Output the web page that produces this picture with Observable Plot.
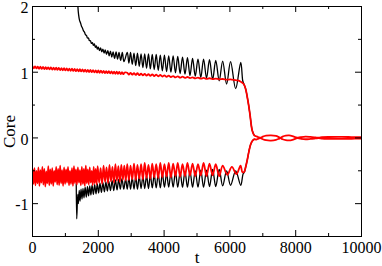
<!DOCTYPE html>
<html><head><meta charset="utf-8">
<script src="https://cdn.jsdelivr.net/npm/d3@7"></script>
<script src="https://cdn.jsdelivr.net/npm/@observablehq/plot@0.6"></script>
<style>body{margin:0;background:#fff}</style>
</head><body><div id="chart"></div>
<script>
const xMajorTicks = [0, 2000, 4000, 6000, 8000, 10000];
const xMinorTicks = [1000, 3000, 5000, 7000, 9000];
const yMajorTicks = [-1, 0, 1, 2];
const yMinorTicks = [-1.5, -0.5, 0.5, 1.5];
const xLabel = "t";
const yLabel = "Core";

const blackUpper = [
[1360,2.3],[1380,2.0],[1400,1.88],[1430,1.79],[1460,1.75],[1490,1.70],[1520,1.67],[1550,1.63],[1580,1.61],[1610,1.57],
[1640,1.56],[1670,1.52],[1700,1.52],[1730,1.48],[1760,1.48],[1790,1.44],[1820,1.45],[1850,1.41],[1880,1.43],[1910,1.38],
[1940,1.40],[1970,1.35],[2000,1.38],[2035,1.33],[2070,1.37],[2105,1.31],[2140,1.35],[2175,1.29],[2210,1.34],[2250,1.27],
[2290,1.33],[2330,1.25],[2370,1.32],[2410,1.23],[2450,1.31],[2495,1.21],[2540,1.31],[2585,1.20],[2630,1.30],[2680,1.18],
[2730,1.30],[2780,1.16],
[2880,1.30],[2930,1.14],[2980,1.30],[3032,1.12],[3085,1.29],[3137,1.10],[3190,1.29],[3245,1.09],[3300,1.28],[3355,1.07],
[3410,1.28],[3467,1.06],[3525,1.28],[3582,1.05],[3640,1.27],[3700,1.04],[3760,1.27],[3822,1.03],[3885,1.26],[3947,1.02],
[4010,1.26],[4075,1.01],[4140,1.25],[4207,1.00],[4275,1.25],[4345,0.99],[4415,1.24],[4487,0.98],[4560,1.23],[4635,0.97],
[4710,1.22],[4787,0.95],[4865,1.21],[4947,0.94],[5030,1.20],[5115,0.92],[5200,1.20],[5290,0.91],[5380,1.19],[5475,0.89],
[5570,1.18],[5675,0.87],[5780,1.17],[5900,0.82],[6020,1.16],[6175,0.75],[6330,1.15],[6390,0.87],[6424,0.82],[6476,0.75],
[6546,0.57],[6607,0.37],[6680,0.11],[6740,0.04]
];

const blackLower = [
[1330,-0.70],[1345,-1.23],[1375,-0.86],[1395,-1.00],[1420,-0.80],[1445,-0.96],[1475,-0.78],[1505,-0.93],[1535,-0.77],[1565,-0.91],
[1600,-0.75],[1635,-0.90],[1670,-0.74],[1705,-0.88],[1740,-0.73],[1775,-0.87],[1810,-0.72],[1850,-0.86],[1890,-0.71],[1930,-0.85],
[1970,-0.70],[2010,-0.84],[2050,-0.69],[2095,-0.83],[2140,-0.68],[2185,-0.82],[2230,-0.67],[2275,-0.81],[2320,-0.66],[2370,-0.80],
[2420,-0.65],[2470,-0.80],[2520,-0.64],[2570,-0.79],[2620,-0.63],[2670,-0.78],[2720,-0.62],[2775,-0.78],[2830,-0.62],
[2880,-0.78],[2930,-0.60],[2980,-0.78],[3032,-0.60],[3085,-0.78],[3137,-0.59],[3190,-0.78],[3245,-0.58],[3300,-0.77],[3355,-0.58],
[3410,-0.77],[3467,-0.57],[3525,-0.77],[3582,-0.56],[3640,-0.76],[3700,-0.56],[3760,-0.76],[3822,-0.55],[3885,-0.76],[3947,-0.54],
[4010,-0.75],[4075,-0.54],[4140,-0.75],[4207,-0.53],[4275,-0.75],[4345,-0.52],[4415,-0.75],[4487,-0.52],[4560,-0.75],[4635,-0.51],
[4710,-0.75],[4787,-0.50],[4865,-0.75],[4947,-0.50],[5030,-0.75],[5115,-0.49],[5200,-0.75],[5290,-0.49],[5380,-0.74],[5475,-0.48],
[5570,-0.74],[5675,-0.48],[5780,-0.73],[5900,-0.50],[6020,-0.72],[6175,-0.50],[6330,-0.72],[6400,-0.55],[6440,-0.52],[6476,-0.45],
[6530,-0.33],[6580,-0.20],[6630,-0.10],[6690,-0.04],[6740,-0.02]
];

const redUpper = [
[0,1.09],[40,1.06],[80,1.087],[120,1.057],[160,1.085],[200,1.053],[240,1.083],[280,1.050],[320,1.080],[360,1.048],
[400,1.078],[440,1.046],[480,1.075],[520,1.044],[560,1.073],[600,1.040],[640,1.070],[680,1.038],[720,1.068],[760,1.036],
[800,1.065],[840,1.032],[880,1.062],[920,1.030],[960,1.060],[1000,1.027],[1040,1.058],[1080,1.024],[1120,1.055],[1160,1.022],
[1200,1.053],[1240,1.020],[1280,1.050],[1320,1.016],[1360,1.048],[1400,1.014],[1440,1.045],[1480,1.012],[1520,1.042],[1560,1.009],
[1600,1.040],[1640,1.006],[1680,1.037],[1720,1.003],[1760,1.034],[1800,1.000],[1840,1.031],[1880,0.998],[1920,1.029],[1960,0.995],
[2000,1.026],[2040,0.992],[2080,1.024],[2120,0.990],[2160,1.021],[2200,0.987],[2240,1.018],[2280,0.985],[2320,1.016],[2360,0.982],
[2400,1.013],[2440,0.980],[2480,1.010],[2520,0.977],[2560,1.007],[2600,0.975],[2640,1.004],[2680,0.972],[2720,1.002],[2760,0.970],
[2800,0.995],[2880,0.992],[2930,0.965],[2980,0.990],[3032,0.962],[3085,0.987],[3137,0.958],[3190,0.984],[3245,0.955],[3300,0.980],
[3355,0.952],[3410,0.976],[3467,0.948],[3525,0.972],[3582,0.945],[3640,0.968],[3700,0.942],[3760,0.963],[3822,0.938],[3885,0.958],
[3947,0.934],[4010,0.953],[4075,0.930],[4140,0.948],[4207,0.926],[4275,0.942],[4345,0.921],[4415,0.937],[4487,0.917],[4560,0.932],
[4635,0.913],[4710,0.927],[4787,0.910],[4865,0.922],[4947,0.906],[5030,0.918],[5115,0.902],[5200,0.913],[5290,0.899],[5380,0.908],
[5475,0.895],[5570,0.903],[5675,0.892],[5780,0.897],[5900,0.886],[6020,0.890],[6175,0.878],[6250,0.875],[6330,0.855],[6420,0.82],
[6476,0.75],[6546,0.57],[6607,0.37],[6680,0.11],[6740,0.04],[6800,0.025],[6870,0.01],[6930,0.003],[7000,0.02],[7100,0.035],
[7250,0.04],[7400,0.03],[7500,0.01],[7540,0.003],[7600,0.02],[7700,0.035],[7800,0.038],[7900,0.028],[8000,0.01],[8050,0.003],
[8150,0.012],[8300,0.02],[8450,0.015],[8600,0.008],[8700,0.003],[8800,0.01],[9000,0.014],[9300,0.015],[9600,0.014],[9800,0.012],
[10000,0.012]
];

const redLower = [
[0,-0.48],[30,-0.70],[60,-0.46],[90,-0.72],[120,-0.50],[150,-0.69],[180,-0.45],[210,-0.73],[240,-0.49],[270,-0.68],
[300,-0.44],[330,-0.71],[360,-0.47],[390,-0.74],[420,-0.51],[450,-0.69],[480,-0.43],[510,-0.72],[540,-0.48],[570,-0.70],
[600,-0.46],[630,-0.73],[660,-0.50],[690,-0.67],[720,-0.44],[750,-0.71],[780,-0.47],[810,-0.72],[840,-0.42],[870,-0.69],
[900,-0.49],[930,-0.73],[960,-0.45],[990,-0.70],[1020,-0.48],[1050,-0.68],[1080,-0.44],[1110,-0.72],[1140,-0.50],[1170,-0.70],
[1200,-0.46],[1230,-0.73],[1260,-0.43],[1290,-0.69],[1320,-0.48],[1350,-0.71],[1380,-0.45],[1410,-0.68],[1440,-0.49],[1470,-0.72],
[1500,-0.44],[1530,-0.70],[1560,-0.47],[1590,-0.73],[1620,-0.42],[1650,-0.69],[1680,-0.48],[1710,-0.71],[1740,-0.45],[1770,-0.68],
[1800,-0.50],[1830,-0.72],[1860,-0.44],[1890,-0.69],[1920,-0.47],[1950,-0.71],[1980,-0.43],
[2025,-0.68],[2070,-0.46],[2115,-0.70],[2160,-0.42],[2205,-0.67],[2250,-0.45],[2295,-0.69],[2340,-0.41],[2385,-0.66],[2430,-0.44],
[2475,-0.68],[2520,-0.40],[2565,-0.65],[2610,-0.43],[2655,-0.67],[2700,-0.41],[2745,-0.64],[2790,-0.42],[2835,-0.65],
[2880,-0.40],[2930,-0.64],[2980,-0.42],[3032,-0.63],[3085,-0.39],[3137,-0.64],[3190,-0.41],[3245,-0.62],[3300,-0.40],[3355,-0.63],
[3410,-0.38],[3467,-0.61],[3525,-0.41],[3582,-0.62],[3640,-0.39],[3700,-0.60],[3760,-0.40],[3822,-0.61],[3885,-0.38],[3947,-0.60],
[4010,-0.40],[4075,-0.59],[4140,-0.38],[4207,-0.60],[4275,-0.39],[4345,-0.58],[4415,-0.38],[4487,-0.59],[4560,-0.40],[4635,-0.58],
[4710,-0.38],[4787,-0.57],[4865,-0.39],[4947,-0.58],[5030,-0.40],[5115,-0.57],[5200,-0.38],[5290,-0.58],[5380,-0.39],[5475,-0.57],
[5570,-0.40],[5675,-0.58],[5780,-0.42],[5920,-0.56],[6060,-0.44],[6200,-0.55],[6323,-0.42],[6380,-0.52],[6430,-0.52],[6476,-0.45],
[6530,-0.33],[6580,-0.20],[6630,-0.10],[6690,-0.04],[6750,-0.02],[6800,-0.025],[6870,-0.01],[6930,-0.003],[7000,-0.02],[7100,-0.035],
[7250,-0.04],[7400,-0.03],[7500,-0.01],[7540,-0.003],[7600,-0.02],[7700,-0.035],[7800,-0.038],[7900,-0.028],[8000,-0.01],[8050,-0.003],
[8150,-0.012],[8300,-0.02],[8450,-0.015],[8600,-0.008],[8700,-0.003],[8800,-0.01],[9000,-0.014],[9300,-0.015],[9600,-0.014],[9800,-0.012],
[10000,-0.012]
];

const rows = (arr) => arr.map(([t, v]) => ({t, v}));
const W = 382, H = 266;
const M = {top: 6, right: 21, bottom: 30, left: 32};
const innerW = W - M.left - M.right;
const innerH = H - M.top - M.bottom;
const majorLen = 6, minorLen = 3;
const font = "'Liberation Serif', 'Times New Roman', serif";
const tickStyle = {stroke: "black", strokeWidth: 1};
const lineOpts = {x: "t", y: "v", curve: "catmull-rom", clip: true};

const chart = Plot.plot({
  width: W, height: H,
  marginTop: M.top, marginRight: M.right, marginBottom: M.bottom, marginLeft: M.left,
  style: {fontFamily: font, fontSize: "16px", background: "white", color: "black", overflow: "visible"},
  x: {domain: [0, 10000]},
  y: {domain: [-1.5, 2]},
  marks: [
    Plot.line(rows(blackUpper), {...lineOpts, stroke: "black", strokeWidth: 1.3}),
    Plot.line(rows(blackLower), {...lineOpts, stroke: "black", strokeWidth: 1.3}),
    Plot.line(rows(redUpper), {...lineOpts, stroke: "#ff0000", strokeWidth: 1.8}),
    Plot.line(rows(redLower), {...lineOpts, stroke: "#ff0000", strokeWidth: 1.8}),
    Plot.ruleX(xMajorTicks, {x: d => d, insetTop: innerH - majorLen, ...tickStyle}),
    Plot.ruleX(xMajorTicks, {x: d => d, insetBottom: innerH - majorLen, ...tickStyle}),
    Plot.ruleX(xMinorTicks, {x: d => d, insetTop: innerH - minorLen, ...tickStyle}),
    Plot.ruleX(xMinorTicks, {x: d => d, insetBottom: innerH - minorLen, ...tickStyle}),
    Plot.ruleY(yMajorTicks, {y: d => d, insetRight: innerW - majorLen, ...tickStyle}),
    Plot.ruleY(yMajorTicks, {y: d => d, insetLeft: innerW - majorLen, ...tickStyle}),
    Plot.ruleY(yMinorTicks, {y: d => d, insetRight: innerW - minorLen, ...tickStyle}),
    Plot.ruleY(yMinorTicks, {y: d => d, insetLeft: innerW - minorLen, ...tickStyle}),
    Plot.frame({stroke: "black", strokeWidth: 1}),
    Plot.axisX(xMajorTicks, {tickSize: 0, tickPadding: 5, tickFormat: d => String(d), label: null, fontSize: 16, fontFamily: font, fill: "black"}),
    Plot.axisY(yMajorTicks, {tickSize: 0, tickPadding: 4, dy: 1.5, tickFormat: d => String(d), label: null, fontSize: 16, fontFamily: font, fill: "black"}),
    Plot.text([xLabel], {frameAnchor: "bottom", textAnchor: "middle", lineAnchor: "bottom", dy: 26, fontSize: 17, fontFamily: font, fill: "black"}),
    Plot.text([yLabel], {frameAnchor: "left", textAnchor: "middle", lineAnchor: "middle", rotate: -90, dx: -22.5, dy: 10, fontSize: 17, fontFamily: font, fill: "black"})
  ]
});
document.getElementById("chart").appendChild(chart);
</script>
</body></html>
